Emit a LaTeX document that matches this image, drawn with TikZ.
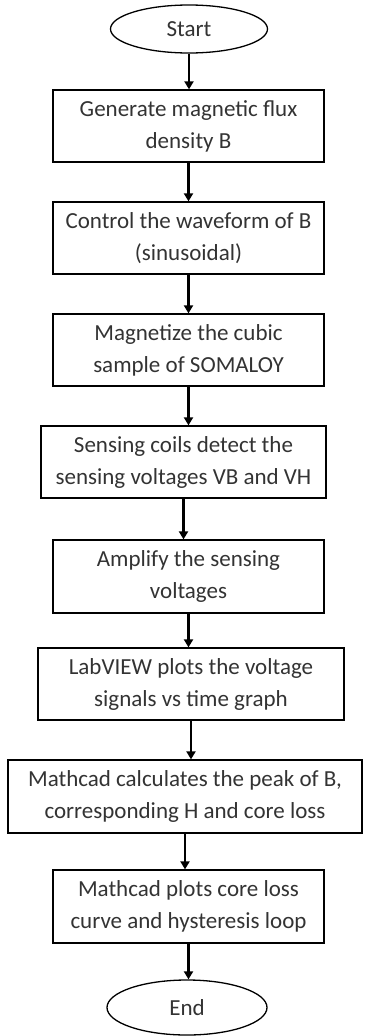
\documentclass[tikz,border=0pt]{standalone}
\usepackage{fontspec}
\setmainfont{Carlito}
\usetikzlibrary{shapes.geometric, arrows.meta, positioning}

\begin{document}
\begin{tikzpicture}[x=1pt,y=1pt,
    every node/.style={font=\fontsize{23}{32}\selectfont, text=black!80, align=center},
    stepbox/.style={draw, rectangle, line width=1.3pt, minimum height=72pt, inner sep=0pt},
    term/.style={draw, ellipse, line width=1.3pt, inner sep=0pt},
    arr/.style={-{Triangle[length=8pt,width=9pt]}, line width=2.6pt}]
    \useasboundingbox (0,0) rectangle (366,-1036);
    \node[term, minimum width=157pt, minimum height=48pt] (start) at (189,-29) {Start};
    \node[stepbox, minimum width=271pt] (b1) at (188.5,-126) {Generate magnetic flux\\density B};
    \node[stepbox, minimum width=271pt] (b2) at (188.5,-238) {Control the waveform of B\\(sinusoidal)};
    \node[stepbox, minimum width=271pt] (b3) at (188.5,-350) {Magnetize the cubic\\sample of SOMALOY};
    \node[stepbox, minimum width=285pt] (b4) at (183.5,-462) {Sensing coils detect the\\sensing voltages VB and VH};
    \node[stepbox, minimum width=271pt, minimum height=73pt] (b5) at (188.5,-576.5) {Amplify the sensing\\voltages};
    \node[stepbox, minimum width=306pt] (b6) at (191,-684) {LabVIEW plots the voltage\\signals vs time graph};
    \node[stepbox, minimum width=354pt, minimum height=73pt] (b7) at (185,-796.5) {Mathcad calculates the peak of B,\\corresponding H and core loss};
    \node[stepbox, minimum width=271pt, minimum height=73pt] (b8) at (188.5,-906.5) {Mathcad plots core loss\\curve and hysteresis loop};
    \node[term, minimum width=160pt, minimum height=55pt] (end) at (187,-1007.5) {End};
    \draw[arr] (start.south) -- (start.south |- b1.north);
    \draw[arr] (b1.south) -- (b1.south |- b2.north);
    \draw[arr] (b2.south) -- (b2.south |- b3.north);
    \draw[arr] (b3.south) -- (b3.south |- b4.north);
    \draw[arr] (b4.south) -- (b4.south |- b5.north);
    \draw[arr] (b5.south) -- (b5.south |- b6.north);
    \draw[arr] (b6.south) -- (b6.south |- b7.north);
    \draw[arr] (b7.south) -- (b7.south |- b8.north);
    \draw[arr] (b8.south) -- (b8.south |- end.north);
\end{tikzpicture}
\end{document}
